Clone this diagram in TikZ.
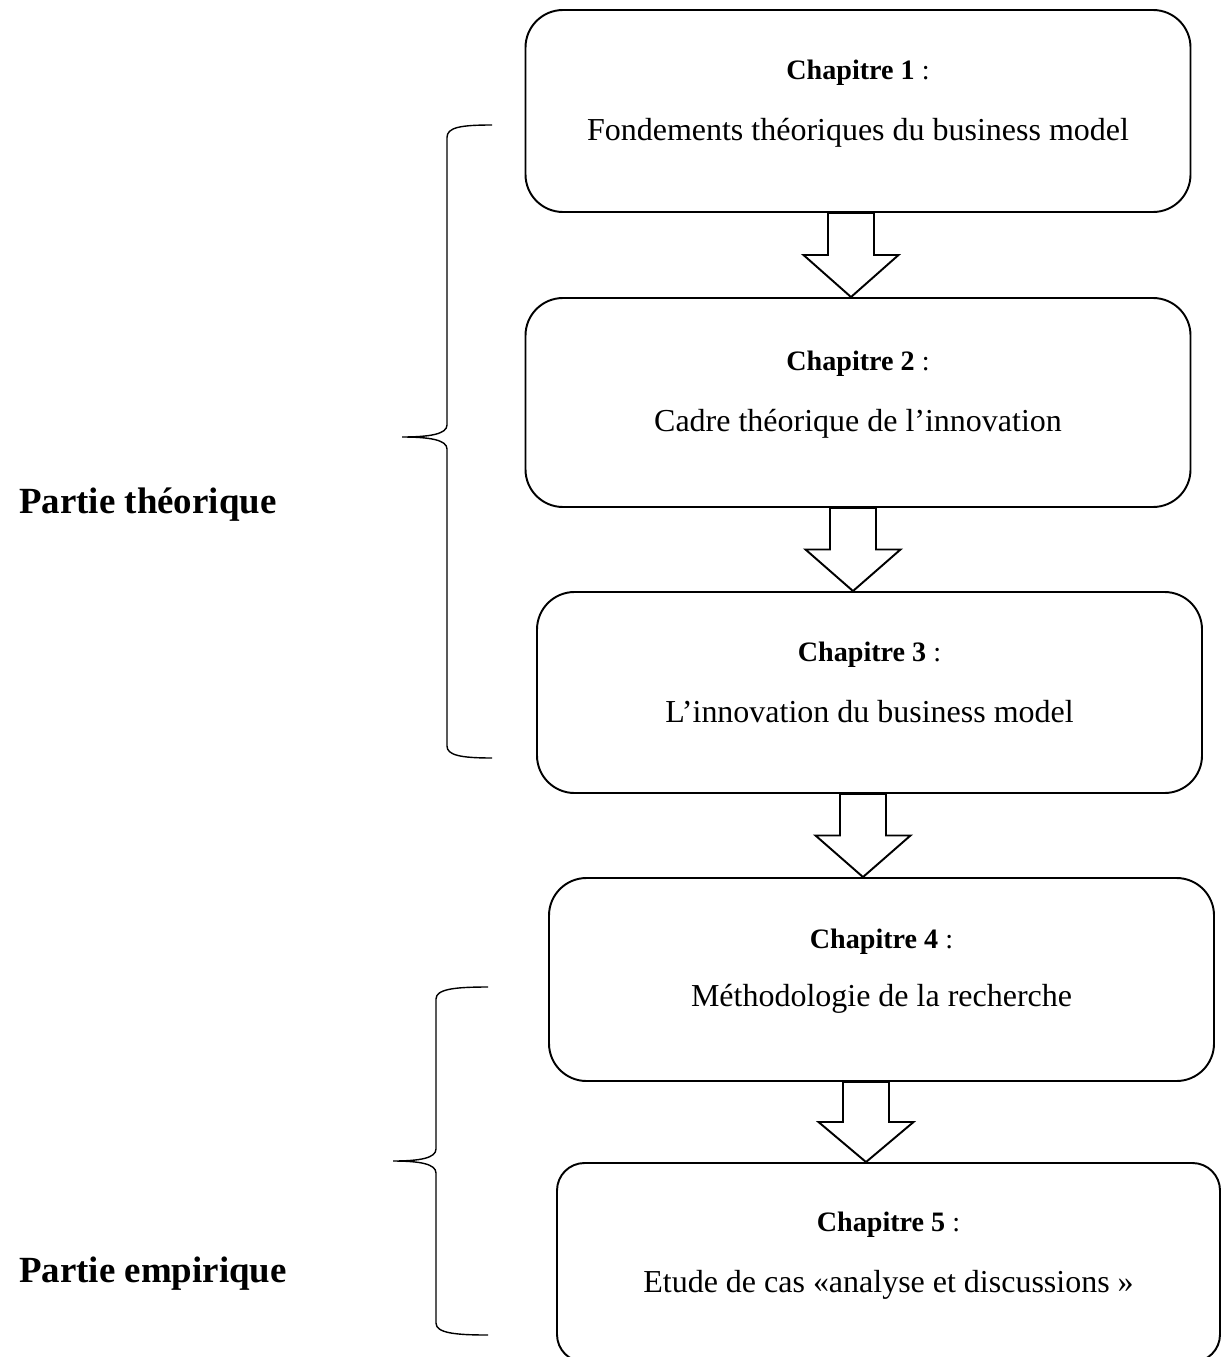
\documentclass[tikz,border=0pt]{standalone}
\usepackage{fontspec}
\setmainfont{Liberation Serif}
\usepackage{tikz}
\usetikzlibrary{calc}

\tikzset{
  chapbox/.style={draw, line width=1.1pt, rounded corners=0.75cm,
                  minimum width=13.3cm, minimum height=4.04cm},
  chaphead/.style={anchor=base, font=\fontsize{16}{19}\selectfont},
  chapbody/.style={anchor=base, font=\fontsize{18.2}{22}\selectfont},
  partie/.style={anchor=base west, font=\fontsize{21}{25}\selectfont\bfseries},
  blockarrow/.style={draw, line width=1.1pt, line join=miter, fill=white},
  bracket/.style={draw, line width=0.8pt}
}

\begin{document}
\begin{tikzpicture}

    \useasboundingbox (0,0) rectangle (24.44,-27.14);
    \clip (0,0) rectangle (24.44,-27.14);

    % -- Chapter boxes --
    \node[chapbox] (c1) at (17.16,-2.22) {};
    \node[chaphead] (h1) at ($(c1.center)+(0,0.62)$) {\textbf{Chapitre 1} :};
    \node[chapbody] (d1) at ($(c1.center)+(0,-0.6)$)
        {Fondements théoriques du business model};

    \node[chapbox, minimum height=4.18cm] (c2) at (17.16,-8.05) {};
    \node[chaphead] (h2) at ($(c2.center)+(0,0.65)$) {\textbf{Chapitre 2} :};
    \node[chapbody] (d2) at ($(c2.center)+(0,-0.58)$)
        {Cadre théorique de l’innovation};

    \node[chapbox, minimum height=4.02cm] (c3) at (17.39,-13.85) {};
    \node[chaphead] (h3) at ($(c3.center)+(0,0.62)$) {\textbf{Chapitre 3} :};
    \node[chapbody] (d3) at ($(c3.center)+(0,-0.6)$)
        {L’innovation du business model};

    \node[chapbox, minimum height=4.06cm] (c4) at (17.63,-19.59) {};
    \node[chaphead] (h4) at ($(c4.center)+(0,0.62)$) {\textbf{Chapitre 4} :};
    \node[chapbody] (d4) at ($(c4.center)+(0,-0.54)$)
        {Méthodologie de la recherche};

    \node[chapbox, minimum width=13.26cm, minimum height=3.98cm,
          rounded corners=0.55cm] (c5) at (17.77,-25.25) {};
    \node[chaphead] (h5) at ($(c5.center)+(0,0.62)$) {\textbf{Chapitre 5} :};
    \node[chapbody] (d5) at ($(c5.center)+(0,-0.6)$)
        {Etude de cas «analyse et discussions »};

    % -- Block arrows between the chapters --
    \draw[blockarrow] let \p1=(c1.south), \p2=(c2.north) in
        (16.56cm,\y1) -- (17.48cm,\y1) -- (17.48cm,{(\y1+\y2)/2})
        -- (17.97cm,{(\y1+\y2)/2}) -- (17.02cm,\y2)
        -- (16.07cm,{(\y1+\y2)/2}) -- (16.56cm,{(\y1+\y2)/2}) -- cycle;

    \draw[blockarrow] let \p1=(c2.south), \p2=(c3.north) in
        (16.60cm,\y1) -- (17.52cm,\y1) -- (17.52cm,{(\y1+\y2)/2})
        -- (18.01cm,{(\y1+\y2)/2}) -- (17.06cm,\y2)
        -- (16.11cm,{(\y1+\y2)/2}) -- (16.60cm,{(\y1+\y2)/2}) -- cycle;

    \draw[blockarrow] let \p1=(c3.south), \p2=(c4.north) in
        (16.80cm,\y1) -- (17.72cm,\y1) -- (17.72cm,{(\y1+\y2)/2})
        -- (18.21cm,{(\y1+\y2)/2}) -- (17.26cm,\y2)
        -- (16.31cm,{(\y1+\y2)/2}) -- (16.80cm,{(\y1+\y2)/2}) -- cycle;

    \draw[blockarrow] let \p1=(c4.south), \p2=(c5.north) in
        (16.86cm,\y1) -- (17.78cm,\y1) -- (17.78cm,{(\y1+\y2)/2})
        -- (18.27cm,{(\y1+\y2)/2}) -- (17.32cm,\y2)
        -- (16.37cm,{(\y1+\y2)/2}) -- (16.86cm,{(\y1+\y2)/2}) -- cycle;

    % -- Braces and part labels --
    \draw[bracket] (9.84,-2.5) .. controls (9.2,-2.5) and (8.94,-2.55) .. (8.94,-2.75)
        -- (8.94,-8.5) .. controls (8.94,-8.68) and (8.6,-8.74) .. (8.04,-8.74)
        .. controls (8.6,-8.74) and (8.94,-8.8) .. (8.94,-8.98)
        -- (8.94,-14.92) .. controls (8.94,-15.1) and (9.2,-15.16) .. (9.84,-15.16);
    \node[partie] (pth) at (0.26,-10.26) {Partie théorique};

    \draw[bracket] (9.76,-19.74) .. controls (9.1,-19.74) and (8.72,-19.78) .. (8.72,-19.98)
        -- (8.72,-22.98) .. controls (8.72,-23.16) and (8.4,-23.22) .. (7.86,-23.22)
        .. controls (8.4,-23.22) and (8.72,-23.28) .. (8.72,-23.46)
        -- (8.72,-26.46) .. controls (8.72,-26.66) and (9.1,-26.7) .. (9.76,-26.7);
    \node[partie] (pem) at (0.26,-25.64) {Partie empirique};

\end{tikzpicture}
\end{document}
